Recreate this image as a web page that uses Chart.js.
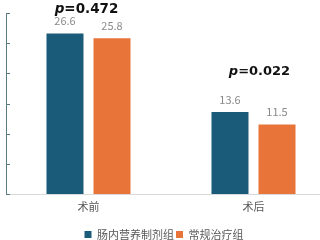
<!DOCTYPE html>
<html>
<head>
<meta charset="utf-8">
<script src="https://cdn.jsdelivr.net/npm/chart.js@4.4.0/dist/chart.umd.min.js"></script>
<style>
html,body{margin:0;padding:0;background:#fff;overflow:hidden;}
#wrap{width:336px;height:240px;}
</style>
</head>
<body>
<div id="wrap"><canvas id="c" width="336" height="240"></canvas></div>
<script>
const categories = ["术前", "术后"];
const seriesNames = ["肠内营养制剂组", "常规治疗组"];
const enteralValues = [26.6, 13.6];
const routineValues = [25.8, 11.5];
const pLabels = ["0.472", "0.022"];
const yTicksMax = 30;
const yTickStep = 5;

const teal = "#1a5b7a";
const orange = "#e9743a";

const legendFit = {
  id: "legendFit",
  beforeInit(chart) {
    const lg = chart.legend;
    const origFit = lg.fit;
    lg.fit = function() {
      origFit.call(this);
      this.height -= 10;
    };
    const origDraw = lg.draw;
    lg.draw = function() {
      const ctx = this.ctx;
      ctx.save();
      ctx.translate(-7, 0);
      origDraw.call(this);
      ctx.restore();
    };
  }
};

const labelPlugin = {
  id: "labels",
  afterDatasetsDraw(chart) {
    const ctx = chart.ctx;
    ctx.save();
    ctx.font = "11px 'Noto Sans CJK SC', 'Noto Sans'";
    ctx.fillStyle = "#8a8a8a";
    ctx.textAlign = "center";
    ctx.textBaseline = "bottom";
    chart.data.datasets.forEach((ds, di) => {
      const meta = chart.getDatasetMeta(di);
      meta.data.forEach((bar, i) => {
        ctx.fillText(ds.data[i].toFixed(1), bar.x, bar.y - 7);
      });
    });
    // p-values
    const xs = chart.scales.x, ys = chart.scales.y;
    const pStyle = [{dx: -2, dy: -24, size: 13.5}, {dx: 6, dy: -40, size: 13}];
    pLabels.forEach((p, i) => {
      const top = ys.getPixelForValue(Math.max(enteralValues[i], routineValues[i]));
      const cx = xs.getPixelForValue(i) + pStyle[i].dx;
      const cy = top + pStyle[i].dy;
      const sz = pStyle[i].size;
      ctx.fillStyle = "#111";
      ctx.textBaseline = "middle";
      ctx.textAlign = "left";
      ctx.font = "italic bold " + sz + "px 'DejaVu Sans'";
      const wp = ctx.measureText("p").width;
      ctx.font = "bold " + sz + "px 'DejaVu Sans'";
      const wr = ctx.measureText("=" + p).width;
      const sx = cx - (wp + wr) / 2;
      ctx.font = "italic bold " + sz + "px 'DejaVu Sans'";
      ctx.fillText("p", sx, cy);
      ctx.font = "bold " + sz + "px 'DejaVu Sans'";
      ctx.fillText("=" + p, sx + wp, cy);
    });
    // inner y ticks
    ctx.strokeStyle = "#5a7a84";
    ctx.lineWidth = 1;
    ys.ticks.forEach(t => {
      const y = Math.round(ys.getPixelForValue(t.value)) + 0.5;
      const x = chart.chartArea.left;
      ctx.beginPath();
      ctx.moveTo(x, y);
      ctx.lineTo(x + 4, y);
      ctx.stroke();
    });
    ctx.restore();
  }
};

new Chart(document.getElementById("c"), {
  type: "bar",
  data: {
    labels: categories,
    datasets: [
      {label: seriesNames[0], data: enteralValues, backgroundColor: teal, barPercentage: 0.787, categoryPercentage: 0.57},
      {label: seriesNames[1], data: routineValues, backgroundColor: orange, barPercentage: 0.787, categoryPercentage: 0.57}
    ]
  },
  options: {
    responsive: false,
    animation: false,
    layout: {padding: {left: 6, right: 0, top: 13, bottom: 0}},
    plugins: {
      legend: {
        position: "bottom",
        labels: {
          boxWidth: 7, boxHeight: 7, padding: 2,
          color: "#595959",
          font: {size: 11, family: "'Noto Sans CJK SC'"}
        }
      },
      tooltip: {enabled: false}
    },
    scales: {
      x: {
        grid: {display: false},
        border: {display: true, color: "#d9d9d9"},
        ticks: {color: "#595959", font: {size: 11, family: "'Noto Sans CJK SC'"}, padding: -2},
        afterFit(scale) { scale.height = 33; }
      },
      y: {
        min: 0, max: yTicksMax,
        ticks: {display: false, stepSize: yTickStep},
        grid: {display: false, drawTicks: false},
        border: {display: true, color: "#5a7a84"}
      }
    }
  },
  plugins: [legendFit, labelPlugin]
});
</script>
</body>
</html>
